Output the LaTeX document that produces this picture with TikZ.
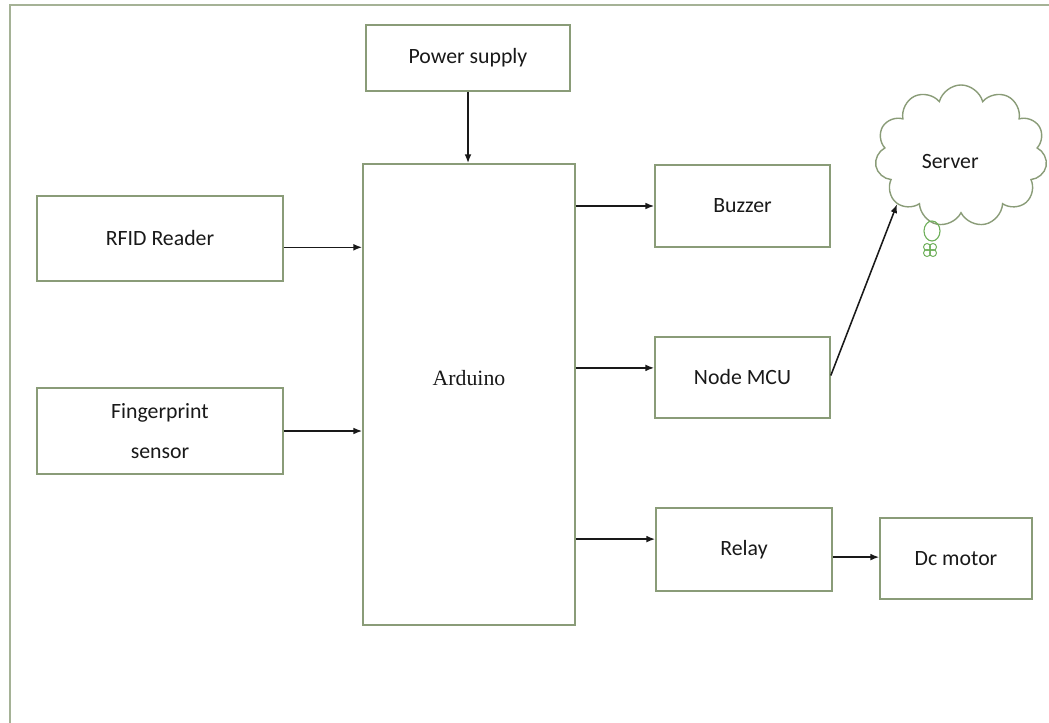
\documentclass[tikz,border=0pt]{standalone}
\usepackage{fontspec}
\setmainfont{Carlito}
\newfontfamily\serifarduino{Liberation Serif}
\usepackage{tikz}
\usetikzlibrary{positioning}
\usetikzlibrary{calc}
\usetikzlibrary{arrows.meta}
\usetikzlibrary{shapes.symbols}

\definecolor{boxgreen}{RGB}{138,156,120}
\definecolor{framegreen}{RGB}{165,178,150}
\definecolor{bubblegreen}{RGB}{110,175,90}
\definecolor{inkgray}{RGB}{25,25,25}

\tikzset{
    blockbox/.style={draw=boxgreen, line width=1.1pt, fill=white, text=inkgray,
        align=center, inner sep=2pt,
        font=\fontsize{15.5}{28}\selectfont},
    arr/.style={draw=inkgray, line width=1.1pt, -{Latex[length=2.2mm,width=1.7mm]}},
}

\begin{document}
\begin{tikzpicture}[x=0.025cm, y=-0.025cm]
    % Page frame
    \useasboundingbox (0,0) rectangle (1049,722);
    \clip (0,0) rectangle (1049,722);
    \draw[framegreen, line width=1.4pt] (10,5) rectangle (1070,745);

    % Blocks
    \node[blockbox, minimum width=5.1cm, minimum height=1.65cm] (power) at (468,58) {Power supply};
    \node[blockbox, minimum width=5.3cm, minimum height=11.525cm,
          label={[yshift=0.4cm, text=inkgray, font=\serifarduino\fontsize{15.5}{19}\selectfont]center:Arduino}] (arduino) at (469,394.5) {};
    \node[blockbox, minimum width=6.15cm, minimum height=2.125cm] (rfid) at (160,238.5) {RFID Reader};
    \node[blockbox, minimum width=6.15cm, minimum height=2.15cm] (finger) at (160,431) {Fingerprint\\sensor};
    \node[blockbox, minimum width=4.375cm, minimum height=2.05cm] (buzzer) at (742.5,206) {Buzzer};
    \node[blockbox, minimum width=4.375cm, minimum height=2.025cm] (nodemcu) at (742.5,377.5) {Node MCU};
    \node[blockbox, minimum width=4.4cm, minimum height=2.075cm] (relay) at (744,549.5) {Relay};
    \node[blockbox, minimum width=3.8cm, minimum height=2.025cm] (dcmotor) at (956,558.5) {Dc motor};

    % Server cloud
    \node[cloud, cloud puffs=11, cloud ignores aspect, draw=boxgreen, line width=1pt,
          minimum width=4.3cm, minimum height=3.55cm,
          label={[xshift=-0.27cm, yshift=-0.15cm, text=inkgray, font=\fontsize{15.5}{19}\selectfont]center:Server}] (server) at (961,156) {};
    \draw[bubblegreen, line width=0.8pt] (932,231) ellipse (8 and 10);
    \foreach \dx/\dy in {-3/-3, 3/-3, -3/3, 3/3}
        \draw[bubblegreen, line width=0.7pt] ($(930,250)+(\dx,\dy)$) circle (3.5);

    % Connections
    \draw[arr] (power.south) -- (power.south |- arduino.north);
    \draw[arr] ([yshift=-0.22cm]rfid.east) -- ([yshift=-0.22cm]rfid.east -| arduino.west);
    \draw[arr] (finger.east) -- (finger.east -| arduino.west);
    \draw[arr] (buzzer.west -| arduino.east) -- (buzzer.west);
    \draw[arr] ([yshift=0.24cm]nodemcu.west -| arduino.east) -- ([yshift=0.24cm]nodemcu.west);
    \draw[arr] ([yshift=0.26cm]relay.west -| arduino.east) -- ([yshift=0.26cm]relay.west);
    \draw[arr] ([yshift=-0.19cm]relay.east) -- ([yshift=-0.19cm]relay.east -| dcmotor.west);
    \draw[arr] ([yshift=0.05cm]nodemcu.east) -- (server.217);
\end{tikzpicture}
\end{document}
